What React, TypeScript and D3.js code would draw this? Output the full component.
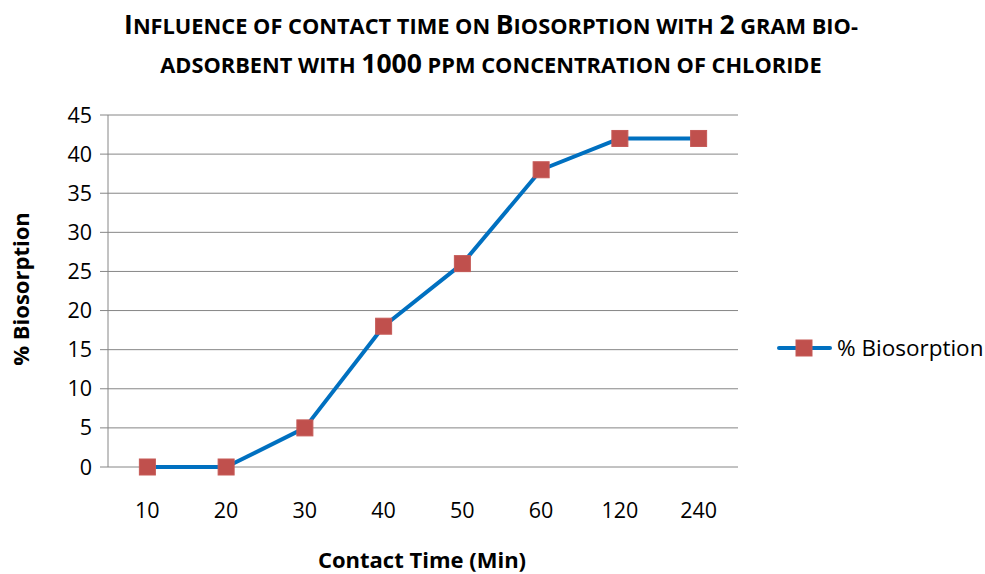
import React from "react";
import * as d3 from "d3";

const categories = ["10", "20", "30", "40", "50", "60", "120", "240"];
const values = [0, 0, 5, 18, 26, 38, 42, 42];
const yTicks = [0, 5, 10, 15, 20, 25, 30, 35, 40, 45];
const seriesName = "% Biosorption";
const titleLine1: [string, boolean][] = [
  ["I", true], ["NFLUENCE OF CONTACT TIME ON ", false], ["B", true], ["IOSORPTION WITH ", false], ["2", true], [" GRAM BIO-", false],
];
const titleLine2: [string, boolean][] = [
  ["ADSORBENT WITH ", false], ["1000", true], [" PPM CONCENTRATION OF CHLORIDE", false],
];

const W = 985, H = 574;
const left = 108, right = 738, top = 115, bottom = 467;
const FONT = "'Open Sans', Lato, sans-serif";
const BLUE = "#0070C0";
const RED = "#C0504D";
const GRID = "#868686";

export default function App() {
  const x = d3.scaleBand<string>().domain(categories).range([left, right]);
  const y = d3.scaleLinear().domain([0, 45]).range([bottom, top]);
  const line = d3.line<number>()
    .x((_, i) => (x(categories[i]) as number) + x.bandwidth() / 2)
    .y((d) => y(d));
  const ms = 16;
  return (
    <svg width={W} height={H} style={{ position: "absolute", left: 0, top: 0, background: "#fff" }}>
      <rect width={W} height={H} fill="#fff" />
      <g fontFamily={FONT} fontWeight="bold" fill="#000">
        {[titleLine1, titleLine2].map((ln, li) => (
          <text key={li} x={491} y={li === 0 ? 34 : 73} textAnchor="middle">
            {ln.map(([t, big], k) => (
              <tspan key={k} fontSize={big ? 26.5 : 21.8}>{t}</tspan>
            ))}
          </text>
        ))}
      </g>
      {yTicks.map((t) => (
        <g key={t}>
          <line x1={left - 8} x2={right} y1={y(t)} y2={y(t)} stroke={GRID} strokeWidth={1} />
          <text x={92} y={y(t) + 7.5} textAnchor="end" fontFamily={FONT} fontSize={21.5} fill="#000">{t}</text>
        </g>
      ))}
      <line x1={left} x2={left} y1={top} y2={bottom} stroke={GRID} strokeWidth={1} />
      {categories.map((c) => (
        <text key={c} x={(x(c) as number) + x.bandwidth() / 2} y={518} textAnchor="middle" fontFamily={FONT} fontSize={21.5} fill="#000">{c}</text>
      ))}
      <text x={422} y={568} textAnchor="middle" fontFamily={FONT} fontSize={22} fontWeight="bold">Contact Time (Min)</text>
      <text transform="translate(29,289) rotate(-90)" textAnchor="middle" fontFamily={FONT} fontSize={22} fontWeight="bold">% Biosorption</text>
      <path d={line(values) || ""} fill="none" stroke={BLUE} strokeWidth={4} strokeLinejoin="round" />
      {values.map((v, i) => (
        <rect key={i} x={(x(categories[i]) as number) + x.bandwidth() / 2 - ms / 2} y={y(v) - ms / 2} width={ms} height={ms} fill={RED} stroke="#C65A57" strokeWidth={1} />
      ))}
      <line x1={779} x2={830} y1={348} y2={348} stroke={BLUE} strokeWidth={4} strokeLinecap="round" />
      <rect x={804 - ms / 2} y={348 - ms / 2} width={ms} height={ms} fill={RED} stroke="#C65A57" strokeWidth={1} />
      <text x={837} y={356} fontFamily={FONT} fontSize={22.5} fill="#000">{seriesName}</text>
    </svg>
  );
}
